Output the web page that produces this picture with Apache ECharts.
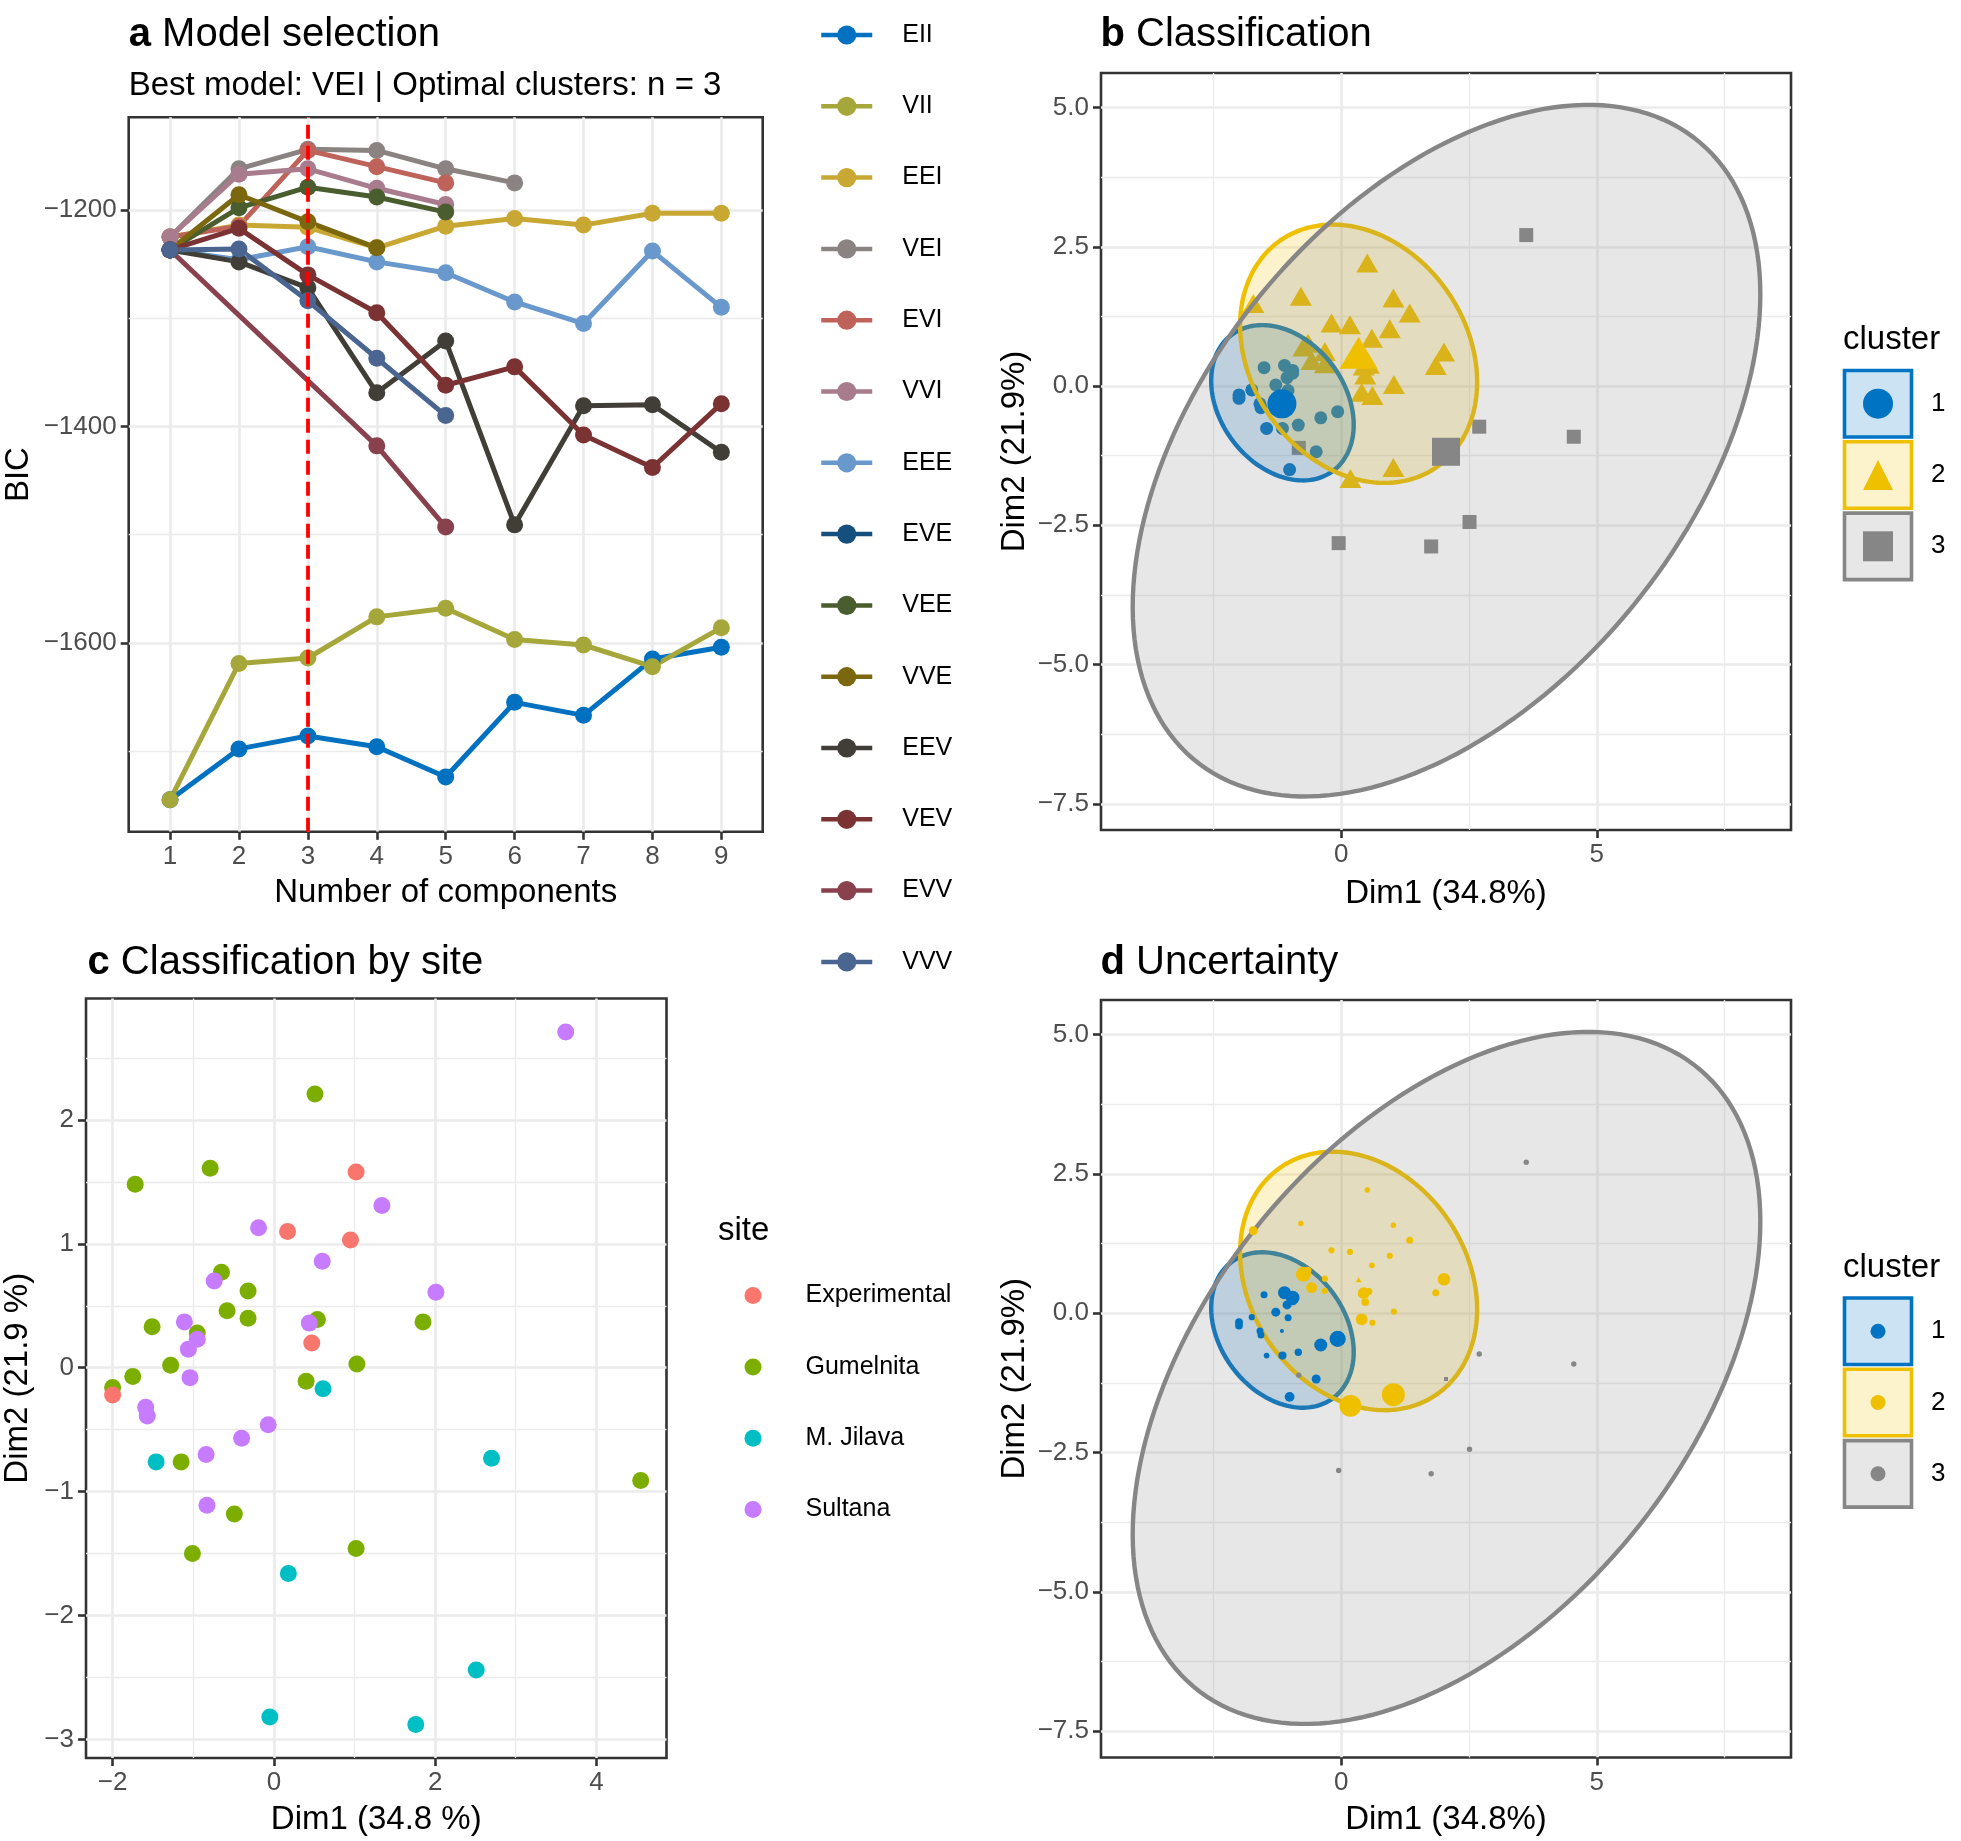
<!DOCTYPE html>
<html>
<head>
<meta charset="utf-8">
<title>Model-based clustering</title>
<script src="https://cdn.jsdelivr.net/npm/echarts@6.0.0/dist/echarts.min.js"></script>
<style>
html, body { margin: 0; padding: 0; background: #fff; }
#container { width: 1961px; height: 1841px; }
</style>
</head>
<body>
<div id="container"></div>
<script>
// ---- panel a: BIC per model and number of components ----
var components = [1, 2, 3, 4, 5, 6, 7, 8, 9];
var models = ['EII', 'VII', 'EEI', 'VEI', 'EVI', 'VVI', 'EEE', 'EVE', 'VEE', 'VVE', 'EEV', 'VEV', 'EVV', 'VVV'];
var bicEII = [-1745, -1698, -1686, -1696, -1724, -1655, -1667, -1615, -1604];
var bicVII = [-1745, -1619, -1614, -1576, -1568, -1597, -1602, -1622, -1586];
var bicEEI = [-1225, -1214, -1216, -1235, -1215, -1208, -1214, -1203, -1203];
var bicVEI = [-1225, -1162, -1144, -1145, -1162, -1175, null, null, null];
var bicEVI = [-1225, -1215, -1145, -1160, -1175, null, null, null, null];
var bicVVI = [-1225, -1167, -1162, -1180, -1195, null, null, null, null];
var bicEEE = [-1237, -1246, -1234, -1248, -1258, -1285, -1305, -1238, -1290];
var bicEVE = [-1237, null, null, null, null, null, null, null, null];
var bicVEE = [-1237, -1198, -1179, -1188, -1202, null, null, null, null];
var bicVVE = [-1237, -1186, -1211, -1235, null, null, null, null, null];
var bicEEV = [-1237, -1248, -1272, -1369, -1321, -1491, -1381, -1380, -1424];
var bicVEV = [-1237, -1217, -1260, -1295, -1362, -1345, -1408, -1438, -1379];
var bicEVV = [-1237, null, null, -1418, -1493, null, null, null, null];
var bicVVV = [-1237, -1236, -1284, -1337, -1390, null, null, null, null];
var bicByModel = [bicEII, bicVII, bicEEI, bicVEI, bicEVI, bicVVI, bicEEE, bicEVE, bicVEE, bicVVE, bicEEV, bicVEV, bicEVV, bicVVV];
var bestComponents = 3;
var modelColors = ['#0070C0', '#A6A73A', '#C8A833', '#8B8382', '#BF6259', '#A87B8D', '#6999CC',
                   '#144F7D', '#4A5D2F', '#7A670E', '#403E36', '#7B3233', '#8A414E', '#4A6690'];

// ---- panels b, c, d: observations on the first two dimensions ----
var dim1 = [3.62, 0.51, -1.72, -0.79, 1.02, 1.34, -0.19, 0.17, 0.95, 0.60,
            -0.65, -0.74, -0.32, 2.01, -0.58, -0.32, 0.54, 0.44, 1.85, 0.47,
            -1.51, -1.11, -0.95, -0.95, -1.06, 1.03, -1.28, -1.75, -1.04, -2.00,
            -2.00, -1.59, -1.57, 0.40, 0.61, -0.07, -0.40, -0.84, -1.46, -1.15,
            2.70, 4.55, -0.83, -0.49, -1.01, 1.02, 0.18, 2.51, -0.05, 1.76];
var dim2 = [2.71, 2.21, 1.48, 1.61, 1.58, 1.31, 1.13, 1.10, 1.03, 0.86,
            0.77, 0.70, 0.62, 0.61, 0.46, 0.40, 0.39, 0.36, 0.37, 0.20,
            0.33, 0.37, 0.28, 0.23, 0.15, 0.03, 0.02, -0.07, -0.08, -0.16,
            -0.22, -0.32, -0.39, -0.11, -0.17, -0.46, -0.57, -0.70, -0.76, -0.76,
            -0.73, -0.91, -1.11, -1.18, -1.50, -1.46, -1.66, -2.44, -2.82, -2.88];
var site = ['Sultana', 'Gumelnita', 'Gumelnita', 'Gumelnita', 'Experimental', 'Sultana', 'Sultana', 'Experimental', 'Experimental', 'Sultana',
            'Gumelnita', 'Sultana', 'Gumelnita', 'Sultana', 'Gumelnita', 'Gumelnita', 'Gumelnita', 'Sultana', 'Gumelnita', 'Experimental',
            'Gumelnita', 'Sultana', 'Gumelnita', 'Sultana', 'Sultana', 'Gumelnita', 'Gumelnita', 'Gumelnita', 'Sultana', 'Gumelnita',
            'Experimental', 'Sultana', 'Sultana', 'Gumelnita', 'M. Jilava', 'Sultana', 'Sultana', 'Sultana', 'M. Jilava', 'Gumelnita',
            'M. Jilava', 'Gumelnita', 'Sultana', 'Gumelnita', 'Gumelnita', 'Gumelnita', 'M. Jilava', 'M. Jilava', 'M. Jilava', 'M. Jilava'];
var cluster = [3, 2, 2, 2, 2, 2, 2, 2, 2, 2,
               2, 2, 2, 2, 2, 2, 2, 2, 2, 2,
               1, 1, 1, 1, 1, 2, 1, 1, 1, 1,
               1, 1, 1, 2, 2, 1, 1, 1, 1, 1,
               3, 3, 3, 1, 1, 2, 2, 3, 3, 3];
var uncertainty = [0.01, 0.01, 0.10, 0.01, 0.01, 0.05, 0.03, 0.03, 0.03, 0.02,
                   0.05, 0.25, 0.03, 0.19, 0.15, 0.03, 0.05, 0.17, 0.05, 0.07,
                   0.05, 0.20, 0.22, 0.12, 0.10, 0.03, 0.10, 0.03, 0.05, 0.07,
                   0.07, 0.05, 0.05, 0.17, 0.03, 0.28, 0.20, 0.06, 0.02, 0.08,
                   0.01, 0.01, 0.01, 0.10, 0.12, 0.45, 0.42, 0.01, 0.01, 0.01];
var sites = ['Experimental', 'Gumelnita', 'M. Jilava', 'Sultana'];
var clusters = ['1', '2', '3'];
var centerDim1 = [-1.16, 0.34, 2.05];
var centerDim2 = [-0.32, 0.60, -1.18];
// cluster ellipses: centre, semi-axes and rotation (degrees)
var ellipseCx = [-1.15, 0.34, 2.06];
var ellipseCy = [-0.30, 0.58, -1.16];
var ellipseA = [1.58, 2.56, 7.44];
var ellipseB = [1.18, 2.05, 4.57];
var ellipseAngle = [-45, -45, 45.7];

var jco = ['#0073C2', '#EFC000', '#868686'];
var jcoFill = ['rgba(0,115,194,0.2)', 'rgba(239,192,0,0.2)', 'rgba(134,134,134,0.2)'];
var clusterSymbol = ['circle', 'triangle', 'rect'];
var clusterSize = [13, [22, 19], 14];
var centerSize = [29, [38, 32], 28];
var siteColors = ['#F8766D', '#7CAE00', '#00BFC4', '#C77CFF'];

var FONT = '"Liberation Sans", Arial, Helvetica, sans-serif';
var GRID_COL = '#EBEBEB';

function minus(s) { return String(s).replace('-', '\u2212'); }

function mainAxis(gridIndex, min, max, values, position, name, nameGap, fmt) {
    return {
        type: 'value', gridIndex: gridIndex, min: min, max: max, position: position,
        name: name, nameLocation: 'middle', nameGap: nameGap,
        nameTextStyle: { fontSize: 33, color: '#000' },
        axisLine: { show: false, onZero: false },
        axisTick: { show: true, length: 8, customValues: values, lineStyle: { color: '#333333', width: 2.6 } },
        axisLabel: { show: true, customValues: values, fontSize: 26, color: '#4D4D4D', margin: 12, formatter: fmt },
        splitLine: { show: true, lineStyle: { color: GRID_COL, width: 2.6 } }
    };
}
function minorAxis(gridIndex, min, max, values, position) {
    return {
        type: 'value', gridIndex: gridIndex, min: min, max: max, position: position,
        axisLine: { show: false, onZero: false },
        axisLabel: { show: false },
        axisTick: { show: false, customValues: values },
        splitLine: { show: true, lineStyle: { color: GRID_COL, width: 1.3 } }
    };
}
var fmtInt = function (v) { return minus(v); };
var fmtOne = function (v) { return minus(v.toFixed(1)); };

var dimTicksX = [0, 5], dimMinorX = [-2.5, 2.5, 7.5];
var dimTicksY = [-7.5, -5, -2.5, 0, 2.5, 5], dimMinorY = [-6.25, -3.75, -1.25, 1.25, 3.75];

var xAxes = [
    mainAxis(0, 0.4, 9.6, components, 'bottom', 'Number of components', 45, fmtInt),
    mainAxis(1, -4.7, 8.8, dimTicksX, 'bottom', 'Dim1 (34.8%)', 47.5, fmtInt),
    minorAxis(1, -4.7, 8.8, dimMinorX, 'top'),
    mainAxis(2, -2.33, 4.87, [-2, 0, 2, 4], 'bottom', 'Dim1 (34.8 %)', 45.5, fmtInt),
    minorAxis(2, -2.33, 4.87, [-1, 1, 3], 'top'),
    mainAxis(3, -4.7, 8.8, dimTicksX, 'bottom', 'Dim1 (34.8%)', 45.5, fmtInt),
    minorAxis(3, -4.7, 8.8, dimMinorX, 'top')
];
var yAxes = [
    mainAxis(0, -1774.6, -1114.4, [-1600, -1400, -1200], 'left', 'BIC', 93, fmtInt),
    minorAxis(0, -1774.6, -1114.4, [-1700, -1500, -1300], 'right'),
    mainAxis(1, -7.97, 5.62, dimTicksY, 'left', 'Dim2 (21.9%)', 70, fmtOne),
    minorAxis(1, -7.97, 5.62, dimMinorY, 'right'),
    mainAxis(2, -3.15, 2.98, [-3, -2, -1, 0, 1, 2], 'left', 'Dim2 (21.9 %)', 52, fmtInt),
    minorAxis(2, -3.15, 2.98, [-2.5, -1.5, -0.5, 0.5, 1.5, 2.5], 'right'),
    mainAxis(3, -7.97, 5.62, dimTicksY, 'left', 'Dim2 (21.9%)', 70, fmtOne),
    minorAxis(3, -7.97, 5.62, dimMinorY, 'right')
];

var series = [];

// panel a lines
models.forEach(function (m, k) {
    series.push({
        name: m, type: 'line', xAxisIndex: 0, yAxisIndex: 0, z: 2,
        data: components.map(function (c, i) { return [c, bicByModel[k][i]]; }),
        connectNulls: true, symbol: 'circle', symbolSize: 17, showAllSymbol: true,
        itemStyle: { color: modelColors[k] },
        lineStyle: { color: modelColors[k], width: 5 }
    });
});
series.push({
    name: 'best', type: 'line', xAxisIndex: 0, yAxisIndex: 0, data: [], z: 10,
    markLine: {
        silent: true, symbol: ['none', 'none'], label: { show: false },
        lineStyle: { color: '#FF0000', type: [14, 7], width: 3.8 },
        data: [{ xAxis: bestComponents }]
    }
});

function pointsOf(k) {
    var out = [];
    for (var i = 0; i < dim1.length; i++) {
        if (cluster[i] === k) out.push([dim1[i], dim2[i], uncertainty[i]]);
    }
    return out;
}
function ellipseData() {
    return ellipseCx.map(function (cx, i) {
        return [cx, ellipseCy[i], ellipseA[i], ellipseB[i], ellipseAngle[i]];
    });
}
function renderEllipse(params, api) {
    var cx = api.value(0), cy = api.value(1), a = api.value(2), b = api.value(3);
    var th = api.value(4) * Math.PI / 180;
    var pts = [];
    for (var s = 0; s < 180; s++) {
        var t = 2 * Math.PI * s / 180;
        var x = cx + a * Math.cos(t) * Math.cos(th) - b * Math.sin(t) * Math.sin(th);
        var y = cy + a * Math.cos(t) * Math.sin(th) + b * Math.sin(t) * Math.cos(th);
        pts.push(api.coord([x, y]));
    }
    return {
        type: 'polygon', shape: { points: pts },
        style: { fill: jcoFill[params.dataIndex], stroke: jco[params.dataIndex], lineWidth: 4.4 }
    };
}
function centerData(small) {
    return centerDim1.map(function (x, k) {
        return {
            value: [x, centerDim2[k]],
            symbol: clusterSymbol[k],
            symbolSize: small ? (k === 1 ? [6, 5] : 4) : centerSize[k],
            itemStyle: { color: jco[k], opacity: 1 }
        };
    });
}

// panel b: points, then ellipses, then cluster centres
clusters.forEach(function (c, k) {
    series.push({
        name: c, type: 'scatter', xAxisIndex: 1, yAxisIndex: 2, z: 2,
        data: pointsOf(k + 1), symbol: clusterSymbol[k], symbolSize: clusterSize[k],
        itemStyle: { color: jco[k], opacity: 1 }
    });
});
series.push({ name: 'ellipse b', type: 'custom', xAxisIndex: 1, yAxisIndex: 2, z: 3,
              data: ellipseData(), renderItem: renderEllipse, silent: true });
series.push({ name: 'centre b', type: 'scatter', xAxisIndex: 1, yAxisIndex: 2, z: 4, data: centerData(false) });

// panel c: by site (Gumelnita drawn first)
[1, 0, 2, 3].forEach(function (s) {
    var pts = [];
    for (var i = 0; i < dim1.length; i++) {
        if (site[i] === sites[s]) pts.push([dim1[i], dim2[i]]);
    }
    series.push({
        name: sites[s], type: 'scatter', xAxisIndex: 3, yAxisIndex: 4, z: 2,
        data: pts, symbol: 'circle', symbolSize: 17,
        itemStyle: { color: siteColors[s], opacity: 1 }
    });
});

// panel d: ellipses, then points sized by uncertainty
series.push({ name: 'ellipse d', type: 'custom', xAxisIndex: 5, yAxisIndex: 6, z: 2,
              data: ellipseData(), renderItem: renderEllipse, silent: true });
clusters.forEach(function (c, k) {
    series.push({
        name: c, type: 'scatter', xAxisIndex: 5, yAxisIndex: 6, z: 3,
        data: pointsOf(k + 1), symbol: 'circle',
        symbolSize: function (v) { return 5 + 40 * v[2]; },
        itemStyle: { color: jco[k], opacity: 1 }
    });
});
series.push({ name: 'centre d', type: 'scatter', xAxisIndex: 5, yAxisIndex: 6, z: 4, data: centerData(true) });

function panelTitle(letter, text, left, top, sub) {
    var t = {
        text: '{b|' + letter + '} ' + text, left: left, top: top, padding: 0,
        textStyle: { fontSize: 40, fontWeight: 'normal', color: '#000',
                     rich: { b: { fontSize: 40, fontWeight: 'bold', color: '#000' } } }
    };
    if (sub) {
        t.subtext = sub;
        t.itemGap = 14;
        t.subtextStyle = { fontSize: 33, color: '#000' };
    }
    return t;
}
function legendTitle(text, left, top) {
    return { text: text, left: left, top: top, padding: 0,
             textStyle: { fontSize: 33, fontWeight: 'normal', color: '#000' } };
}

var boxes = [];
[370.5, 1298].forEach(function (y0) {
    for (var k = 0; k < 3; k++) {
        boxes.push({
            type: 'rect', z: 0,
            shape: { x: 1844.5, y: y0 + 71.3 * k, width: 67, height: 66.5 },
            style: { fill: jcoFill[k], stroke: jco[k], lineWidth: 3.6 }
        });
    }
});

var option = {
    animation: false,
    backgroundColor: '#fff',
    textStyle: { fontFamily: FONT },
    title: [
        panelTitle('a', 'Model selection', 128.7, 15, 'Best model: VEI | Optimal clusters: n = 3'),
        panelTitle('b', 'Classification', 1100.5, 15),
        panelTitle('c', 'Classification by site', 87.5, 943),
        panelTitle('d', 'Uncertainty', 1100.5, 943),
        legendTitle('cluster', 1843, 323.5),
        legendTitle('site', 718, 1214.5),
        legendTitle('cluster', 1843, 1251.5)
    ],
    grid: [
        { left: 128.7, top: 117.3, width: 634, height: 714.5, show: true, borderColor: '#333333', borderWidth: 2.6 },
        { left: 1101, top: 73, width: 690, height: 757, show: true, borderColor: '#333333', borderWidth: 2.6 },
        { left: 86, top: 998.5, width: 580.5, height: 759.5, show: true, borderColor: '#333333', borderWidth: 2.6 },
        { left: 1101, top: 1000, width: 690, height: 757.5, show: true, borderColor: '#333333', borderWidth: 2.6 }
    ],
    xAxis: xAxes,
    yAxis: yAxes,
    legend: [
        {
            orient: 'vertical', left: 819, top: 22, padding: 0,
            itemWidth: 51, itemHeight: 24, itemGap: 45.3, data: models,
            lineStyle: { width: 4.5 },
            textStyle: { fontSize: 25, lineHeight: 26, color: '#000', padding: [0, 0, 0, 25] }
        },
        {
            orient: 'vertical', left: 1863, top: 388.7, padding: 0,
            itemWidth: 30, itemHeight: 30, itemGap: 41.3,
            data: [{ name: '1', icon: 'circle' }, { name: '2', icon: 'triangle' }, { name: '3', icon: 'rect' }],
            textStyle: { fontSize: 26, lineHeight: 26, color: '#000', padding: [0, 0, 0, 33] }
        },
        {
            orient: 'vertical', left: 744.5, top: 1282.6, padding: 0,
            itemWidth: 17, itemHeight: 17, itemGap: 45.3,
            data: sites.map(function (s) { return { name: s, icon: 'circle' }; }),
            textStyle: { fontSize: 25, lineHeight: 26, color: '#000', padding: [0, 0, 0, 39] }
        },
        {
            orient: 'vertical', left: 1870.5, top: 1318.2, padding: 0,
            itemWidth: 15, itemHeight: 15, itemGap: 45.3,
            data: clusters.map(function (c) { return { name: c, icon: 'circle' }; }),
            textStyle: { fontSize: 26, lineHeight: 26, color: '#000', padding: [0, 0, 0, 40.5] }
        }
    ],
    graphic: { elements: boxes },
    series: series
};

var dom = document.getElementById('container');
var myChart = echarts.init(dom);
myChart.setOption(option, true);
</script>
</body>
</html>
